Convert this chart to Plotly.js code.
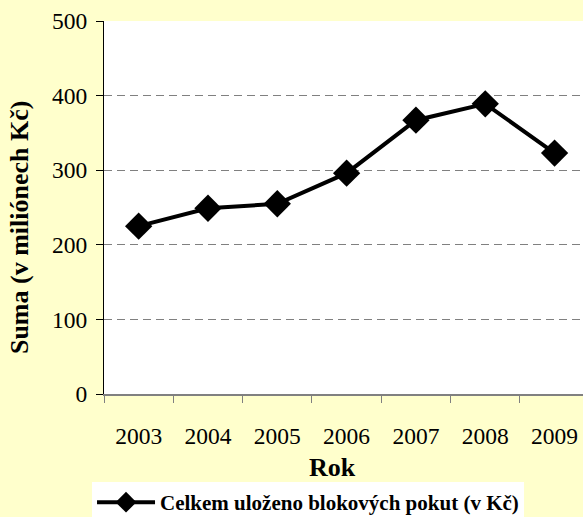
<!DOCTYPE html>
<html><head><meta charset="utf-8">
<script src="https://cdn.plot.ly/plotly-3.0.1.min.js"></script>
<style>html,body{margin:0;padding:0;background:#FFFFCC;}</style>
</head><body>
<div id="chart" style="width:583px;height:517px;"></div>
<script>
const years = ["2003","2004","2005","2006","2007","2008","2009"];
const values = [225, 249, 255, 296, 367, 389, 323];
const seriesName = "Celkem uloženo blokových pokut (v Kč)";

const trace = {
  x: years, y: values, type: "scatter", mode: "lines+markers",
  name: "<b>" + seriesName + "</b>",
  line: {color: "#000", width: 4},
  marker: {symbol: "diamond", size: 21, color: "#000"}
};
const font = "'Liberation Serif', 'Times New Roman', serif";
const layout = {
  width: 583, height: 517,
  paper_bgcolor: "#FFFFCC", plot_bgcolor: "#FFFFFF",
  margin: {l: 104, r: 0, t: 21, b: 123, autoexpand: false},
  font: {family: font, color: "#000", size: 24},
  xaxis: {
    type: "category", range: [-0.5, 6.41], tickson: "boundaries",
    ticks: "outside", ticklen: 7, tickcolor: "#808080", tickwidth: 1,
    showline: true, linecolor: "#808080", linewidth: 2,
    showgrid: false, ticklabelstandoff: 20,
    tickfont: {family: font, size: 23.5}
  },
  yaxis: {
    range: [0, 500], dtick: 100, ticks: "outside", ticklen: 7, tickcolor: "#000",
    showline: true, linecolor: "#000", linewidth: 1, zeroline: false,
    showgrid: true, gridcolor: "#808080", griddash: "8px,5px", gridwidth: 1,
    ticklabelstandoff: 4,
    tickfont: {family: font, size: 23.5}
  },
  showlegend: true,
  legend: {
    orientation: "h", x: -0.025, xanchor: "left", y: -0.236, yanchor: "top",
    bgcolor: "#FFFFFF", font: {family: font, size: 21, color: "#000"},
    itemwidth: 58
  },
  annotations: [
    {text: "<b>Suma (v miliónech Kč)</b>", textangle: -90, xref: "paper", yref: "paper",
     x: -0.175, y: 0.448, xanchor: "center", yanchor: "middle", showarrow: false,
     font: {family: font, size: 26}},
    {text: "<b>Rok</b>", xref: "paper", yref: "paper",
     x: 0.478, y: -0.196, xanchor: "center", yanchor: "middle", showarrow: false,
     font: {family: font, size: 26}}
  ]
};
Plotly.newPlot("chart", [trace], layout, {displayModeBar: false, staticPlot: true});
</script>
</body></html>
